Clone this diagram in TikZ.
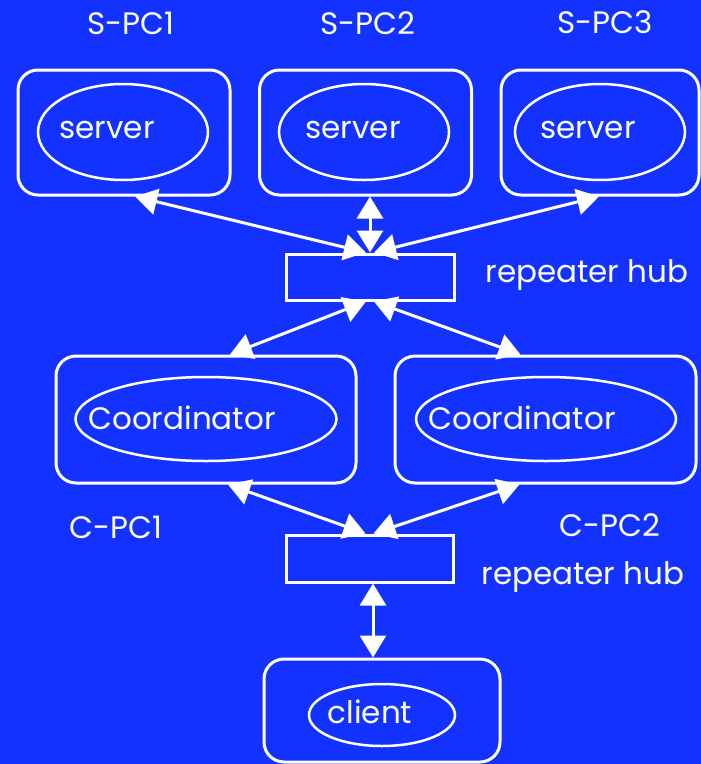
\documentclass[tikz,border=0pt]{standalone}
\usepackage{fontspec}
\setmainfont{Poppins}
\usetikzlibrary{arrows.meta,shapes.geometric}
\definecolor{bgblue}{RGB}{20,50,255}
\tikzset{
  pcbox/.style={draw=white, line width=3pt, rounded corners=20pt, inner sep=0pt},
  proc/.style={draw=white, ellipse, line width=2.5pt, inner sep=0pt},
  hubbox/.style={draw=white, line width=3pt, inner sep=0pt},
  txt/.style={text=white, font=\fontsize{31}{36}\selectfont, inner sep=0pt},
  biarrow/.style={draw=white, line width=3pt, {Triangle[length=22pt,width=26pt]}-{Triangle[length=22pt,width=26pt]}, shorten <=0pt, shorten >=0pt}
}
\begin{document}
\begin{tikzpicture}[x=1pt,y=-1pt]
\useasboundingbox (0,0) rectangle (701,764);
\fill[bgblue] (0,0) rectangle (701,764);
% server PCs
\node[pcbox, minimum width=212pt, minimum height=125pt] (sp1) at (124,132.5) {};
\node[pcbox, minimum width=212pt, minimum height=125pt] (sp2) at (365.5,132.5) {};
\node[pcbox, minimum width=198pt, minimum height=125pt] (sp3) at (600,132.5) {};
\node[proc, minimum width=170pt, minimum height=96pt] (e1) at (123,132) {};
\node[proc, minimum width=170pt, minimum height=96pt] (e2) at (364,132) {};
\node[proc, minimum width=170pt, minimum height=96pt] (e3) at (600,132) {};
\node[txt] (s1) at (107,130) {server};
\node[txt] (s2) at (353,130) {server};
\node[txt] (s3) at (588,130) {server};
\node[txt] (l1) at (131,23) {S-PC1};
\node[txt] (l2) at (368,23) {S-PC2};
\node[txt] (l3) at (605,22) {S-PC3};
% hub A
\node[hubbox, minimum width=168pt, minimum height=46pt] (hubA) at (370,277) {};
\node[txt] (rA) at (587,275) {repeater hub};
% coordinator PCs
\node[pcbox, minimum width=300pt, minimum height=127pt] (cp1) at (206,419.5) {};
\node[pcbox, minimum width=301pt, minimum height=127pt] (cp2) at (545.5,419.5) {};
\node[proc, minimum width=261pt, minimum height=84pt] (ce1) at (206,419) {};
\node[proc, minimum width=260pt, minimum height=84pt] (ce2) at (546,419) {};
\node[txt] (c1) at (182,418) {Coordinator};
\node[txt] (c2) at (522,418) {Coordinator};
\node[txt] (lc1) at (116,527) {C-PC1};
\node[txt] (lc2) at (610,525) {C-PC2};
% hub B
\node[hubbox, minimum width=167pt, minimum height=47pt] (hubB) at (369.5,558.5) {};
\node[txt] (rB) at (583,577) {repeater hub};
% client
\node[pcbox, minimum width=236pt, minimum height=103pt] (cl) at (382,710.5) {};
\node[proc, minimum width=146pt, minimum height=62pt] (cle) at (382,715) {};
\node[txt] (clt) at (370,712) {client};
% connectors
\draw[biarrow] ([xshift=-4pt]hubA.north) -- ([xshift=11pt]sp1.south);
\draw[biarrow] (hubA.north) -- ([xshift=4.5pt]sp2.south);
\draw[biarrow] ([xshift=4pt]hubA.north) -- ([xshift=-1pt]sp3.south);
\draw[biarrow] ([xshift=-4pt]hubA.south) -- ([xshift=24pt]cp1.north);
\draw[biarrow] ([xshift=4pt]hubA.south) -- ([xshift=-25pt]cp2.north);
\draw[biarrow] ([xshift=-4pt]hubB.north) -- ([xshift=22pt]cp1.south);
\draw[biarrow] ([xshift=4pt]hubB.north) -- ([xshift=-26pt]cp2.south);
\draw[biarrow] ([xshift=3.5pt]hubB.south) -- ([xshift=-9pt]cl.north);
\end{tikzpicture}
\end{document}
